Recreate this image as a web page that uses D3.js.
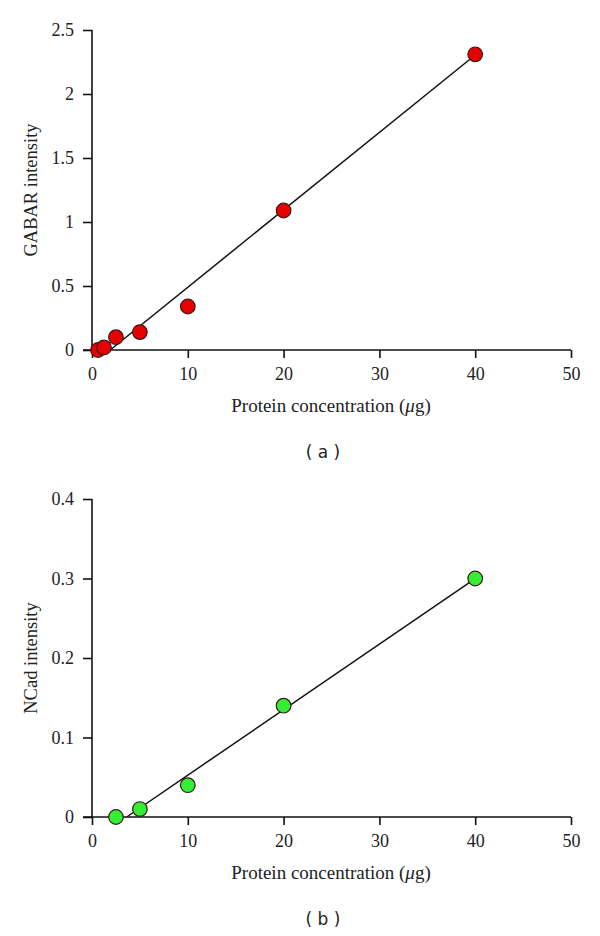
<!DOCTYPE html>
<html>
<head>
<meta charset="utf-8">
<script src="https://cdn.jsdelivr.net/npm/d3@7"></script>
<style>
  body { margin: 0; background: #fff; }
  text { fill: #222; }
  .axis text { font-family: 'Liberation Serif', serif; font-size: 18px; }
  .axis path, .axis line { stroke: #111; stroke-width: 1.6px; }
</style>
</head>
<body>
<svg id="chart" width="600" height="936"></svg>
<script>
// protein amounts (ug) and band intensities
var gabarX = [0.625, 1.25, 2.5, 5, 10, 20, 40];
var gabarY = [0, 0.02, 0.1, 0.14, 0.34, 1.09, 2.31];
var gabarFit = [0.0605, -0.115];   // slope, intercept

var ncadX = [2.5, 5, 10, 20, 40];
var ncadY = [0, 0.01, 0.04, 0.14, 0.3];
var ncadFit = [0.00824, -0.0298];

var xTicks = [0, 10, 20, 30, 40, 50];
var gabarTicks = [0, 0.5, 1, 1.5, 2, 2.5];
var ncadTicks = [0, 0.1, 0.2, 0.3, 0.4];

var svg = d3.select("#chart");
var serif = "'Liberation Serif', serif";

function panel(o) {
  var g = svg.append("g");
  var x = d3.scaleLinear().domain([0, 50]).range([92, 571]);
  var y = d3.scaleLinear().domain([0, o.yMax]).range([o.bottom, o.top]);

  var xAxis = g.append("g").attr("class", "axis")
    .attr("transform", "translate(0," + o.bottom + ")")
    .call(d3.axisBottom(x).tickValues(xTicks).tickSize(8).tickPadding(9).tickFormat(d3.format("d")));
  var yAxis = g.append("g").attr("class", "axis")
    .attr("transform", "translate(92,0)")
    .call(d3.axisLeft(y).tickValues(o.yTicks).tickSize(9).tickPadding(9).tickFormat(function(d){ return String(d); }));
  // x axis line runs on to the left under the zero tick
  xAxis.select(".domain").attr("d", "M83,0H" + x(50));
  yAxis.select(".domain").attr("d", "M0," + y(0) + "V" + y(o.yMax));
  xAxis.attr("font-family", null).attr("font-size", null);
  yAxis.attr("font-family", null).attr("font-size", null);

  // fitted line from where it crosses zero up to the last point
  var slope = o.fit[0], icpt = o.fit[1];
  var x0 = -icpt / slope, x1 = d3.max(o.xs);
  g.append("line")
    .attr("x1", x(x0)).attr("y1", y(slope * x0 + icpt))
    .attr("x2", x(x1)).attr("y2", y(slope * x1 + icpt))
    .attr("stroke", "#111").attr("stroke-width", 1.5);

  g.selectAll("circle").data(o.xs)
    .enter().append("circle")
    .attr("cx", function(d){ return x(d); })
    .attr("cy", function(d, i){ return y(o.ys[i]); })
    .attr("r", 7.3)
    .attr("fill", o.color)
    .attr("stroke", "#3a1a1a").attr("stroke-width", 1.2);

  g.append("text")
    .attr("transform", "translate(37," + ((o.top + o.bottom) / 2) + ") rotate(-90)")
    .attr("text-anchor", "middle")
    .attr("font-family", serif).attr("font-size", 18.5)
    .text(o.yLabel);

  var xt = g.append("text")
    .attr("x", 331).attr("y", o.bottom + 62)
    .attr("text-anchor", "middle")
    .attr("font-family", serif).attr("font-size", 19);
  xt.append("tspan").text("Protein concentration (");
  xt.append("tspan").attr("font-style", "italic").text("\u03bc");
  xt.append("tspan").text("g)");

  g.append("text")
    .attr("x", 323).attr("y", o.bottom + 108)
    .attr("text-anchor", "middle")
    .attr("font-family", "'DejaVu Sans', sans-serif").attr("font-size", 17)
    .attr("xml:space", "preserve")
    .text(o.tag);
}

panel({ xs: gabarX, ys: gabarY, fit: gabarFit, yMax: 2.5, yTicks: gabarTicks,
        top: 30, bottom: 350, color: "#e60000", yLabel: "GABAR intensity", tag: "( a )" });
panel({ xs: ncadX, ys: ncadY, fit: ncadFit, yMax: 0.4, yTicks: ncadTicks,
        top: 499, bottom: 817, color: "#33ee33", yLabel: "NCad intensity", tag: "( b )" });
</script>
</body>
</html>
